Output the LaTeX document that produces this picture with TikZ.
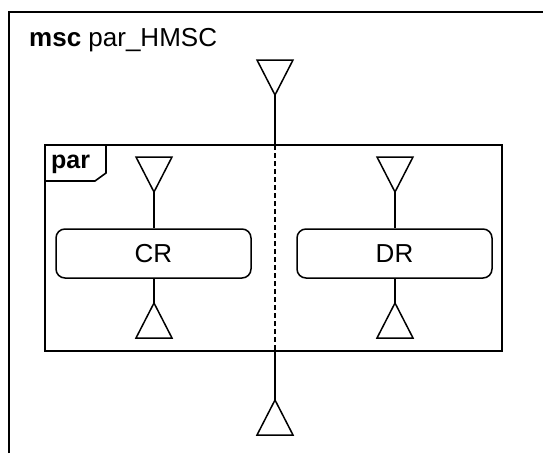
\documentclass[tikz,border=0pt]{standalone}
\usepackage{fontspec}
\setmainfont{Liberation Sans}
\usetikzlibrary{positioning, calc}

\begin{document}
\begin{tikzpicture}[
  x=1pt, y=-1pt,
  framebox/.style={line width=2.3pt},
  refbox/.style={
    rectangle, rounded corners=9pt, draw, line width=1.5pt,
    minimum width=195pt, minimum height=49pt,
    font=\fontsize{26}{30}\selectfont
  },
  flowline/.style={line width=1.5pt},
  tri/.style={line width=1.5pt}
]
  \useasboundingbox (0,0) rectangle (543,453);

  % outer msc frame
  \draw[framebox] (9,453) -- (9,12) -- (543,12);
  \node[anchor=base west, inner sep=0, font=\fontsize{26}{30}\selectfont]
    (title) at (29,46.5) {\textbf{msc} par\_HMSC};

  % start and end of the whole graph
  \draw[tri] (257,60) -- (293,60) -- (275,95) -- cycle;
  \coordinate (start) at (275,95);
  \coordinate (stop) at (275,400);
  \draw[tri] (stop) -- (257,435) -- (293,435) -- cycle;

  % par inline frame
  \draw[framebox] (45,145) rectangle (502,351);
  \coordinate (partop) at (275,145);
  \coordinate (parbot) at (275,351);
  \draw[line width=1.6pt] (45,181) -- (95,181) -- (106,173) -- (106,145);
  \node[anchor=base west, inner sep=0, font=\fontsize{25}{29}\selectfont\bfseries]
    (parlabel) at (51,168) {par};
  \draw[line width=2.5pt, dash pattern=on 5pt off 3pt] (partop) -- (parbot);
  \draw[flowline] (start) -- (partop);
  \draw[flowline] (parbot) -- (stop);

  % operands
  \node[refbox] (cr) at (153.5,253.5) {CR};
  \node[refbox] (dr) at (394.5,253.5) {DR};

  \draw[tri] (136,157) -- (172,157) -- (154,192) -- cycle;
  \coordinate (crin) at (154,192);
  \coordinate (crout) at (154,303);
  \draw[tri] (crout) -- (136,338) -- (172,338) -- cycle;
  \draw[flowline] (crin) -- (crin |- cr.north);
  \draw[flowline] (crout |- cr.south) -- (crout);

  \draw[tri] (377,157) -- (413,157) -- (395,192) -- cycle;
  \coordinate (drin) at (395,192);
  \coordinate (drout) at (395,303);
  \draw[tri] (drout) -- (377,338) -- (413,338) -- cycle;
  \draw[flowline] (drin) -- (drin |- dr.north);
  \draw[flowline] (drout |- dr.south) -- (drout);
\end{tikzpicture}
\end{document}
